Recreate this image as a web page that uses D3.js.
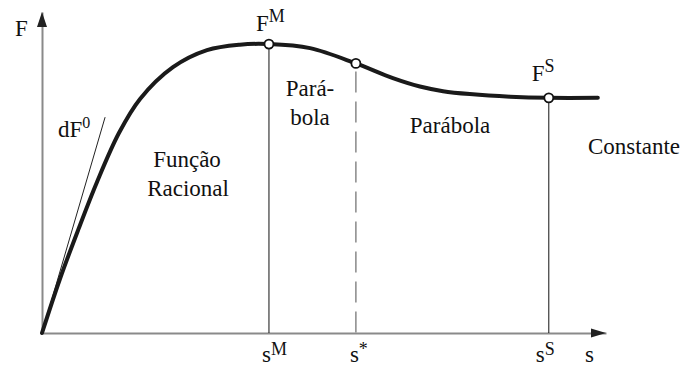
<!DOCTYPE html>
<html>
<head>
<meta charset="utf-8">
<script src="https://cdn.jsdelivr.net/npm/d3@7/dist/d3.min.js"></script>
<style>
  html, body { margin: 0; padding: 0; background: #fff; }
  svg { display: block; }
</style>
</head>
<body>
<svg id="chart" width="687" height="368"></svg>
<script>
// Bond force F versus slip s (normalised: s / s^M, F / F^M)
const slip  = [0, 0.079, 0.159, 0.242, 0.339, 0.432, 0.577, 0.727, 0.872, 1.0, 1.181, 1.383, 1.546, 1.665, 1.767, 1.885, 2.062, 2.233, 2.449];
const force = [0, 0.187, 0.356, 0.522, 0.692, 0.810, 0.920, 0.979, 0.998, 1.0, 0.986, 0.933, 0.882, 0.853, 0.837, 0.827, 0.818, 0.814, 0.814];

// Branch transition points: s^M, s*, s^S
const keySlip  = [1.0, 1.383, 2.233];
const keyForce = [1.0, 0.933, 0.814];

// Initial stiffness tangent dF^0
const tangentSlip  = [0, 0.278];
const tangentForce = [0, 0.747];

// Axis extents
const sMax = 2.485;
const fMax = 1.111;

const SERIF = '"Liberation Serif", "Times New Roman", monospace';

const svg = d3.select("#chart");
const x = d3.scaleLinear().domain([0, sMax]).range([42, 606]);
const y = d3.scaleLinear().domain([0, fMax]).range([333, 12]);

// Axes: plain lines without ticks, arrow heads added below
const axisColor = "#8a8a8a";
const xAxis = svg.append("g").attr("transform", `translate(0,${y(0)})`)
  .call(d3.axisBottom(x).tickValues([]).tickSizeOuter(0));
const yAxis = svg.append("g").attr("transform", `translate(${x(0)},0)`)
  .call(d3.axisLeft(y).tickValues([]).tickSizeOuter(0));
[xAxis, yAxis].forEach(g => g.select(".domain").attr("stroke", axisColor).attr("stroke-width", 2));

const x0 = x(0), y0 = y(0), xe = x(sMax), ye = y(fMax);
svg.append("path")
  .attr("d", `M${xe},${y0} L${xe - 15},${y0 - 4.5} L${xe - 15},${y0 + 4.5} Z`)
  .attr("fill", "#222");
svg.append("path")
  .attr("d", `M${x0},${ye} L${x0 - 5},${ye + 15} L${x0 + 5},${ye + 15} Z`)
  .attr("fill", "#222");

// Vertical guides at s^M and s^S, dashed guide at s*
svg.append("line")
  .attr("x1", x(keySlip[0])).attr("x2", x(keySlip[0]))
  .attr("y1", y(keyForce[0]) + 5).attr("y2", y0)
  .attr("stroke", "#111").attr("stroke-width", 1);
svg.append("line")
  .attr("x1", x(keySlip[2])).attr("x2", x(keySlip[2]))
  .attr("y1", y(keyForce[2]) + 5).attr("y2", y0)
  .attr("stroke", "#111").attr("stroke-width", 1);
svg.append("line")
  .attr("x1", x(keySlip[1])).attr("x2", x(keySlip[1]))
  .attr("y1", y(keyForce[1]) + 8).attr("y2", y0)
  .attr("stroke", "#808080").attr("stroke-width", 1.4)
  .attr("stroke-dasharray", "21 9");

// Tangent line
svg.append("line")
  .attr("x1", x(tangentSlip[0])).attr("y1", y(tangentForce[0]))
  .attr("x2", x(tangentSlip[1])).attr("y2", y(tangentForce[1]))
  .attr("stroke", "#222").attr("stroke-width", 1);

// Main curve
const pts = slip.map((s, i) => [s, force[i]]);
svg.append("path")
  .datum(pts)
  .attr("d", d3.line().x(d => x(d[0])).y(d => y(d[1])).curve(d3.curveCatmullRom.alpha(0.5)))
  .attr("fill", "none")
  .attr("stroke", "#1a1a1a")
  .attr("stroke-width", 4)
  .attr("stroke-linecap", "round");

// Transition markers
svg.selectAll("circle.key")
  .data(keySlip.map((s, i) => [s, keyForce[i]]))
  .join("circle")
  .attr("class", "key")
  .attr("cx", d => x(d[0])).attr("cy", d => y(d[1]))
  .attr("r", 4.5)
  .attr("fill", "#fff").attr("stroke", "#111").attr("stroke-width", 1.8);

function textAt(px, py, size, anchor) {
  return svg.append("text")
    .attr("x", px).attr("y", py)
    .style("font-family", SERIF).style("font-size", size + "px")
    .attr("fill", "#111")
    .attr("text-anchor", anchor || "start");
}

function label(px, py, str, size, anchor) {
  return textAt(px, py, size, anchor).text(str);
}

// Text with a raised, smaller suffix
function supText(px, py, base, sup, size, supSize, rise) {
  const t = textAt(px, py, size);
  t.append("tspan").text(base);
  t.append("tspan").style("font-size", supSize + "px").attr("dy", -rise).text(sup);
  return t;
}

// Axis titles
label(15, 36, "F", 23);
label(585, 362, "s", 23);

// Slip labels under the axis
supText(x(keySlip[0]) - 7, 362, "s", "M", 23, 18, 7);
supText(x(keySlip[1]) - 6, 362, "s", "*", 23, 18, 7);
supText(x(keySlip[2]) - 13, 362, "s", "S", 23, 18, 7);

// Force labels at peak and residual level
supText(x(keySlip[0]) - 13, 31, "F", "M", 23, 18, 9);
supText(x(keySlip[2]) - 17, 81, "F", "S", 23, 18, 9);

// Tangent label
supText(58, 137, "dF", "0", 23, 16, 9);

// Branch descriptions
label(187, 167, "Função", 23, "middle");
label(188, 196, "Racional", 23, "middle");
label(310, 96, "Pará-", 23, "middle");
label(310, 125, "bola", 23, "middle");
label(450, 133, "Parábola", 23, "middle");
label(634, 154, "Constante", 23, "middle");
</script>
</body>
</html>
